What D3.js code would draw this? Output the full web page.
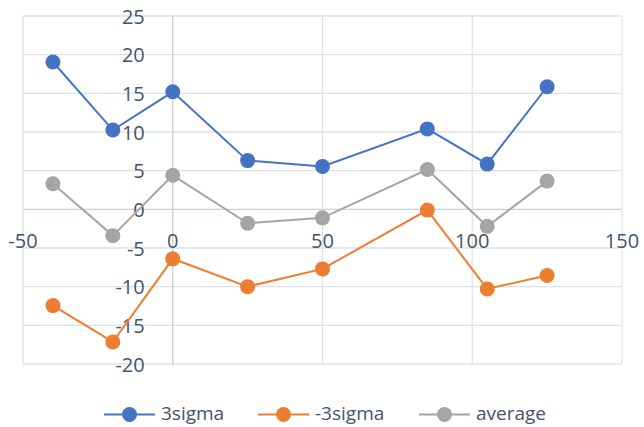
<!DOCTYPE html>
<html>
<head>
<meta charset="utf-8">
<script src="https://cdn.jsdelivr.net/npm/d3@7"></script>
<style>
    body { margin: 0; background: #fff; }
    text { font-family: "Open Sans", Lato, sans-serif; fill: #44546A; }
</style>
</head>
<body>
<svg id="chart" width="644" height="427"></svg>
<script>
const xValues = [-40, -20, 0, 25, 50, 85, 105, 125];
const sigmaPlus = [19.05, 10.25, 15.2, 6.3, 5.55, 10.4, 5.85, 15.85];
const sigmaMinus = [-12.45, -17.15, -6.4, -10.0, -7.7, -0.1, -10.3, -8.55];
const average = [3.3, -3.4, 4.4, -1.8, -1.1, 5.15, -2.2, 3.65];
const seriesNames = ['3sigma', '-3sigma', 'average'];
const xTicks = [-50, 0, 50, 100, 150];
const yTicks = [-20, -15, -10, -5, 0, 5, 10, 15, 20, 25];

const colors = ['#4472C4', '#ED7D31', '#A5A5A5'];
const allSeries = [sigmaPlus, sigmaMinus, average];

const svg = d3.select('#chart');

const x = d3.scaleLinear().domain([-50, 150]).range([23, 622]);
const y = d3.scaleLinear().domain([-20, 25]).range([364, 16]);

// grid lines
svg.append('g')
    .selectAll('line')
    .data(yTicks)
    .enter()
    .append('line')
    .attr('x1', x(-50)).attr('x2', x(150))
    .attr('y1', d => y(d)).attr('y2', d => y(d))
    .attr('stroke', d => d === 0 ? '#C9CFD9' : '#DEE2E8')
    .attr('stroke-width', 1.3);

svg.append('g')
    .selectAll('line')
    .data(xTicks)
    .enter()
    .append('line')
    .attr('x1', d => x(d)).attr('x2', d => x(d))
    .attr('y1', y(25)).attr('y2', y(-20))
    .attr('stroke', d => d === 0 ? '#C9CFD9' : '#DEE2E8')
    .attr('stroke-width', 1.3);

// Y axis labels (next to the axis at x = 0)
svg.append('g')
    .selectAll('text')
    .data(yTicks)
    .enter()
    .append('text')
    .attr('x', x(0) - 28)
    .attr('y', d => y(d) + 7.5)
    .attr('text-anchor', 'end')
    .style('font-size', '20px')
    .text(d => d);

// X axis labels (below the axis at y = 0)
svg.append('g')
    .selectAll('text')
    .data(xTicks)
    .enter()
    .append('text')
    .attr('x', d => x(d))
    .attr('y', y(0) + 39)
    .attr('text-anchor', 'middle')
    .style('font-size', '20px')
    .text(d => d);

// lines and markers
const line = d3.line()
    .x((d, i) => x(xValues[i]))
    .y(d => y(d));

allSeries.forEach((vals, s) => {
    const g = svg.append('g');
    g.append('path')
        .datum(vals)
        .attr('d', line)
        .attr('fill', 'none')
        .attr('stroke', colors[s])
        .attr('stroke-width', 2);
    g.selectAll('circle')
        .data(vals)
        .enter()
        .append('circle')
        .attr('cx', (d, i) => x(xValues[i]))
        .attr('cy', d => y(d))
        .attr('r', 7.5)
        .attr('fill', colors[s]);
});

// legend
const legendX = [104, 258, 419];
const legendY = 414.5;
const legend = svg.append('g');
seriesNames.forEach((name, s) => {
    const lx = legendX[s];
    legend.append('line')
        .attr('x1', lx).attr('x2', lx + 51)
        .attr('y1', legendY).attr('y2', legendY)
        .attr('stroke', colors[s])
        .attr('stroke-width', 2);
    legend.append('circle')
        .attr('cx', lx + 25.5)
        .attr('cy', legendY)
        .attr('r', 7.5)
        .attr('fill', colors[s]);
    legend.append('text')
        .attr('x', lx + 57)
        .attr('y', legendY + 5.5)
        .style('font-size', '19px')
        .text(name);
});
</script>
</body>
</html>
